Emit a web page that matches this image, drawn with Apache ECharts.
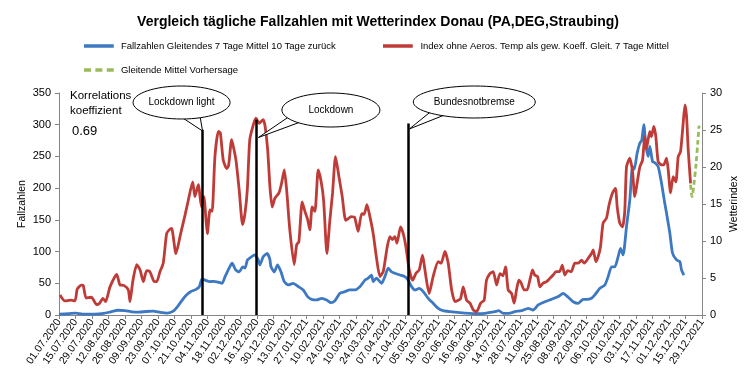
<!DOCTYPE html>
<html><head><meta charset="utf-8">
<script src="https://cdn.jsdelivr.net/npm/echarts@6/dist/echarts.min.js"></script>
<style>html,body{margin:0;padding:0;background:#fff}#c{width:756px;height:379px}</style>
</head><body><div id="c"></div>
<script>
// Tick labels (every 14 days starting 01.07.2020)
const tickLabels = ['01.07.2020','15.07.2020','29.07.2020','12.08.2020','26.08.2020','09.09.2020','23.09.2020','07.10.2020','21.10.2020','04.11.2020','18.11.2020','02.12.2020','16.12.2020','30.12.2020','13.01.2021','27.01.2021','10.02.2021','24.02.2021','10.03.2021','24.03.2021','07.04.2021','21.04.2021','05.05.2021','19.05.2021','02.06.2021','16.06.2021','30.06.2021','14.07.2021','28.07.2021','11.08.2021','25.08.2021','08.09.2021','22.09.2021','06.10.2021','20.10.2021','03.11.2021','17.11.2021','01.12.2021','15.12.2021','29.12.2021'];

// Fallzahlen (day offset from 01.07.2020, value on left axis)
const caseDays = [0,8,14,20,30,38,44,50,56,62,68,74,80,86,92,97,101,104,108,112,116,119,121.5,124,128.2,131,135,138.5,141,145,147,150,153,156,158,160,163.6,166.4,169.2,170.6,173.4,176.8,179,180,182.8,185.6,188.5,191.3,194.7,198.9,203.2,207.4,211.1,214.5,218.8,223,227.3,230.9,234.3,238.5,242.8,247,251,255.5,259.8,262.6,265.4,266.8,269.5,273.9,276.7,279.5,282.4,285.2,289.5,293.7,296.5,299.4,302.2,305.9,309.3,313.5,317.7,322,326.2,331.9,340.4,348.9,357.4,361.6,366,370,373.5,377.2,382,387.1,392.8,398.4,402.6,406.9,412.6,418.2,423.9,428.1,432.4,436.6,440.9,445.1,448,452.2,455,459.3,463.5,466.3,469.2,472,474.8,476.8,479,481.9,484.7,487,488.5,490.9,493.2,494.8,496.6,498.3,500.3,501.7,504,506,508.8,511.6,514.4,516.4,518.7,521,524.4,527.2,528.6,530.6];
const caseValues = [1.5,2,3,1.5,1.5,2.5,5,7.5,7,5,4.5,5.5,6,4,3,6,14,22,31,37,40,44,57,55,52.6,53,52,50,60.5,76,81.6,71,68,76,74,86.8,92,94.7,86.8,79,92,97,88,76,68,79,68,52.6,47.4,50,44.7,39.5,29,24.7,23.7,26.3,23.7,19.5,22.6,34.2,36.8,39.5,39.5,44.7,55,58,63,52.6,58,50,60.5,73.7,68,65.8,63,60.5,55,44.7,39.5,42,36.8,26.3,18.4,10.5,6.8,5.3,3.7,2.6,2,2.6,4,5.3,6.8,2.6,2.6,5.3,6.8,10.5,7.9,15.8,21,24.7,29,34.2,28,21,18.4,24.7,24.7,26.3,31.6,42,47.4,60.5,76,76,92,105,94.7,139.4,181.6,234,230,255,271,275,300,268,250,265.7,242,240,234,208,176,155,129,97.4,86.8,84,71,63];

// Wetterindex (right axis)
const indexDays = [0.8,5,10,13.6,15.5,19,20.6,23,27.5,32,34.5,37.3,39.6,43.3,49,51.8,55,58.8,60.3,62.6,66,68.8,71.6,74.4,77.2,81,83,85.7,88.5,91.4,93.6,95.6,99.3,103.3,107,109.8,113.5,115.4,118.3,121,123,125,126,128.2,130,132.4,135.3,137,139.5,142.4,144,146.6,148,150.3,153,155.9,157.9,159.9,162,165,167.2,170,173.4,175,177.2,179.1,181,183.4,186.8,189,191.3,193.3,196,199.7,201.8,203.7,206.5,208.8,211,213,215,217.3,220.1,222.4,224.7,227.5,230,232.3,234.8,237.7,240.5,243.4,245.5,248,251,254,257,259,261.5,264,266.8,269.7,272.5,275.3,278.7,281,283,285.2,287,290,292.3,294.6,297.4,300.3,303,305.9,308.7,310.7,314.3,317.7,322,324.5,327.7,330.5,333.4,336.2,339,341,343.2,346.1,349,351.7,354.6,358,361,363,365.9,368.7,371.6,374.4,377,379.2,381.4,384.3,386.5,388.5,390.5,392.5,395,397.5,399.8,402.1,404,406.4,408.3,411.1,414,416.8,419.6,422,425,427.3,429.5,432,435,438,441,443.7,446,449.3,452.2,453.6,455.9,457.8,459.8,462,464.9,467.1,470,472.5,474,476.2,478.5,480.4,481.9,484.7,487,488.9,490.9,493.2,495.5,497.4,498.8,501.7,503,505.1,506.8,508.8,511.6,513.5,515.9,517.3,519.3,521.5,523.8,525.8,527.8,530,531.5,532.9,534.3,536.3];
const indexValues = [2.7,1.9,2.0,1.9,3.5,4.05,4.0,2.3,2.4,1.4,1.6,2.25,1.8,3.8,5.5,4.05,4.0,3.4,1.8,4.5,6.8,6.1,4.5,6.0,5.85,4.5,4.5,5.85,7.0,11.0,11.5,11.7,8.3,11.0,13.5,15.5,18.0,16.0,17.6,14.6,16.0,12.5,11.0,14.2,14.0,21.4,24.8,24.6,20.9,19.8,20.2,23.7,22.8,20.9,16.9,12.2,13.7,16.9,23.7,25.7,26.6,25.9,26.4,25.5,22.3,17.4,14.6,15.8,16.5,17.8,19.6,16.9,11.5,6.8,9.5,9.9,15.3,14.0,13.0,11.5,14.6,14.0,19.6,18.2,15.5,8.3,12.8,16.5,21.4,18.7,16.0,12.8,13.0,13.3,13.2,11.3,13.7,13.6,14.9,13.3,11.0,7.6,5.2,5.85,9.2,10.6,10.2,10.6,9.7,11.9,11.0,9.2,6.1,4.7,5.6,6.1,8.1,6.1,2.9,5.2,7.2,7.0,8.6,7.0,3.4,1.8,2.0,2.2,3.8,2.0,1.6,0.7,0.45,1.6,2.0,4.7,5.6,5.85,4.05,5.6,5.3,6.5,3.4,2.9,1.6,3.4,4.7,4.3,3.4,3.4,4.7,6.1,5.4,5.2,3.8,4.3,4.5,4.95,5.4,5.85,5.85,6.75,5.4,6.0,5.85,7.0,7.0,7.4,7.0,7.65,8.3,8.8,7.2,7.9,9.2,12.4,13.1,14.9,16.5,17.1,14.6,12.4,11.9,14.0,20.0,21.2,19.4,16.0,17.8,20.0,20.9,24.1,22.5,24.8,24.1,25.5,24.1,20.7,20.3,20.3,21.2,19.6,16.5,18.7,18.0,21.4,22.1,25.9,28.4,26.8,22.3,17.8];

// Vorhersage (right axis)
const forecastDays = [536.3,537.5,539,541,542.5,543.5];
const forecastValues = [17.6,16.0,17.5,20.5,23.5,25.6];

// Events
const eventNames = ['Lockdown light','Lockdown','Bundesnotbremse'];
const eventDays = [121.9,167.2,296.6];
const eventTops = [292,308,302];
const correlationLabel = ['Korrelations','koeffizient'];
const correlationValue = '0.69';

const FONT = "'Liberation Sans',Arial,sans-serif";
const pairs = (d, v) => d.map((x, i) => [x, v[i]]);
const AXC = '#868686';
const BLUE = '#3D78C2', RED = '#BE3B37', GREEN = '#9BBB59';
const lineIcon = 'path://M0,0h34v4h-34z';
const dashIcon = 'path://M0,0h8v4h-8z M13,0h8v4h-8z M26,0h8v4h-8z';
const legendText = {fontSize: 9.5, fontFamily: FONT, color: '#000'};

const chart = echarts.init(document.getElementById('c'), null, {renderer: 'canvas'});
const option = {
  animation: false,
  backgroundColor: '#fff',
  textStyle: {fontFamily: FONT, color: '#000'},
  title: {
    text: 'Vergleich tägliche Fallzahlen mit Wetterindex Donau (PA,DEG,Straubing)',
    left: 'center', top: 10,
    textStyle: {fontFamily: FONT, fontSize: 14, fontWeight: 'bold', color: '#000'}
  },
  legend: [
    {data: [{name: 'Fallzahlen Gleitendes 7 Tage Mittel 10 Tage zurück', icon: lineIcon}], left: 84, top: 41, padding: 0, itemWidth: 34, itemHeight: 3.5, textStyle: legendText},
    {data: [{name: 'Index ohne Aeros. Temp als gew. Koeff. Gleit. 7 Tage Mittel', icon: lineIcon}], left: 383, top: 41, padding: 0, itemWidth: 35, itemHeight: 3.5, textStyle: legendText},
    {data: [{name: 'Gleitende Mittel Vorhersage', icon: dashIcon}], left: 84, top: 65, padding: 0, itemWidth: 34, itemHeight: 3.5, textStyle: legendText}
  ],
  grid: {left: 59, right: 54, top: 93, bottom: 64},
  xAxis: {
    type: 'value', min: 0, max: 546, interval: 14,
    axisLine: {lineStyle: {color: AXC}},
    axisTick: {show: true, length: 4, lineStyle: {color: AXC}},
    splitLine: {show: false},
    axisLabel: {rotate: 55, fontSize: 10.5, margin: 5, color: '#000', fontFamily: FONT,
      formatter: v => tickLabels[Math.round(v / 14)] || ''}
  },
  yAxis: [
    {type: 'value', min: 0, max: 350, interval: 50, position: 'left',
     name: 'Fallzahlen', nameLocation: 'middle', nameRotate: 90, nameGap: 31, nameMoveOverlap: false,
     nameTextStyle: {fontSize: 10.5, color: '#000', fontFamily: FONT},
     axisLine: {show: true, lineStyle: {color: AXC}},
     axisTick: {show: true, length: 4, lineStyle: {color: AXC}},
     splitLine: {show: false},
     axisLabel: {fontSize: 11, color: '#000', margin: 8, fontFamily: FONT}},
    {type: 'value', min: 0, max: 30, interval: 5, position: 'right',
     name: 'Wetterindex', nameLocation: 'middle', nameRotate: 90, nameGap: 27, nameMoveOverlap: false,
     nameTextStyle: {fontSize: 10.5, color: '#000', fontFamily: FONT},
     axisLine: {show: true, lineStyle: {color: AXC}},
     axisTick: {show: true, length: 4, lineStyle: {color: AXC}},
     splitLine: {show: false},
     axisLabel: {fontSize: 11, color: '#000', margin: 8, fontFamily: FONT}}
  ],
  series: [
    {name: 'Fallzahlen Gleitendes 7 Tage Mittel 10 Tage zurück', type: 'line', yAxisIndex: 0,
     data: pairs(caseDays, caseValues), showSymbol: false, symbol: 'none', smooth: 0.2,
     lineStyle: {width: 2.8, color: BLUE}, itemStyle: {color: BLUE}, z: 2},
    {name: 'Index ohne Aeros. Temp als gew. Koeff. Gleit. 7 Tage Mittel', type: 'line', yAxisIndex: 1,
     data: pairs(indexDays, indexValues), showSymbol: false, symbol: 'none', smooth: 0.2,
     lineStyle: {width: 2.8, color: RED}, itemStyle: {color: RED}, z: 3},
    {name: 'Gleitende Mittel Vorhersage', type: 'line', yAxisIndex: 1,
     data: pairs(forecastDays, forecastValues), showSymbol: false, symbol: 'none', smooth: 0.3,
     lineStyle: {width: 2.8, color: GREEN, type: [5, 3]}, itemStyle: {color: GREEN}, z: 3},
    {name: 'events', type: 'line', yAxisIndex: 0, data: [], z: 6,
     markLine: {silent: true, symbol: ['none', 'none'], label: {show: false},
       lineStyle: {color: '#000', width: 2.5, type: 'solid'},
       data: eventDays.map((d, i) => [{coord: [d, 0]}, {coord: [d, eventTops[i]]}])}}
  ]
};
chart.setOption(option);

// Callout bubbles, positioned relative to the event lines
const bubbleGeom = [
  {cx: -21, cy: 102.5, rx: 48.5, ry: 16.5, b1: [-25, 118.5], b2: [-3, 117.5], tip: [0, 131]},
  {cx: 75, cy: 110, rx: 49, ry: 17, b1: [37, 118], b2: [54, 122.5], tip: [2.5, 137.5]},
  {cx: 66, cy: 102, rx: 61, ry: 16, b1: [27, 112], b2: [50, 113.5], tip: [1, 129]}
];
const g = [];
eventDays.forEach((d, i) => {
  const px = chart.convertToPixel({xAxisIndex: 0, yAxisIndex: 0}, [d, 0])[0];
  const b = bubbleGeom[i];
  g.push({type: 'polygon', z: 100, shape: {points: [[px + b.b1[0], b.b1[1] - 4], [px + b.tip[0], b.tip[1]], [px + b.b2[0], b.b2[1] - 4]]},
    style: {fill: '#fff', stroke: '#000', lineWidth: 1}});
  g.push({type: 'ellipse', z: 101, shape: {cx: px + b.cx, cy: b.cy, rx: b.rx, ry: b.ry},
    style: {fill: '#fff', stroke: '#000', lineWidth: 1}});
  g.push({type: 'text', z: 103, x: px + b.cx, y: b.cy,
    style: {text: eventNames[i], fontSize: 10, fontFamily: FONT, fill: '#000', align: 'center', verticalAlign: 'middle'}});
});
g.push({type: 'text', left: 70, top: 90, z: 50, style: {text: correlationLabel[0], fontSize: 11.5, fontFamily: FONT, fill: '#000'}});
g.push({type: 'text', left: 70, top: 105, z: 50, style: {text: correlationLabel[1], fontSize: 11.5, fontFamily: FONT, fill: '#000'}});
g.push({type: 'text', left: 72, top: 125, z: 50, style: {text: correlationValue, fontSize: 13, fontFamily: FONT, fill: '#000'}});
chart.setOption({graphic: g});
</script>
</body></html>
